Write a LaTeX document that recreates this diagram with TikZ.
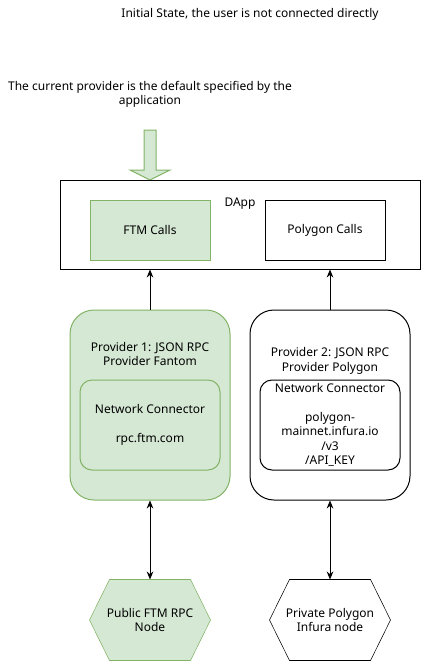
\documentclass[tikz,border=0pt]{standalone}
\usepackage{fontspec}
\setmainfont{Noto Sans}
\usetikzlibrary{positioning, calc, arrows.meta, backgrounds}
\definecolor{ftmfill}{HTML}{D5E8D4}
\definecolor{ftmline}{HTML}{82B366}

\begin{document}
\begin{tikzpicture}
    [x=0.75pt, y=-0.75pt, line width=0.75pt,
    every node/.style={font=\fontsize{9}{10.9}\selectfont, align=center},
    boxnode/.style={rectangle, draw=black, minimum width=90pt, minimum height=45pt, inner sep=0pt},
    providernode/.style={rectangle, draw=black, rounded corners=18pt, minimum width=120pt, minimum height=142.5pt, inner sep=0pt},
    connectnode/.style={rectangle, draw=black, rounded corners=9pt, minimum width=105pt, minimum height=67.5pt, inner sep=0pt},
    hexnode/.style={rectangle, minimum width=90pt, minimum height=60pt, inner sep=0pt},
    ftm/.style={draw=ftmline, fill=ftmfill},
    plain/.style={draw=black, fill=white},
    arrowline/.style={-{Stealth[length=6pt, width=5pt]}},
    dblarrow/.style={{Stealth[length=6pt, width=5pt]}-{Stealth[length=6pt, width=5pt]}},]

    \useasboundingbox (0,0) rectangle (421,661);

    %Texts
    \node (title) at (250,14) {Initial State, the user is not connected directly};
    \node (caption) at (150,94.5) {The current provider is the default specified by the\\application};

    %Default provider arrow
    \draw[ftm] (144,130) -- (156,130) -- (156,170) -- (170,170) -- (150,180) -- (130,170) -- (144,170) -- cycle;

    %DApp
    \node[boxnode, minimum width=270pt, minimum height=66.75pt](dapp) at (240,224.5){};
    \node(dapplabel) at (240,204){DApp};
    \node[boxnode, ftm](ftmcalls) at (150,230){FTM Calls};
    \node[boxnode](polycalls) at (325,230){Polygon Calls};

    %Providers
    \node[providernode, ftm](ftmprov) at (150,405){};
    \node(ftmprovlabel) at (150,354){Provider 1: JSON RPC\\Provider Fantom};
    \node[connectnode, ftm](ftmconn) at (150,425){Network Connector\\\\rpc.ftm.com};

    \node[providernode](polyprov) at (330,405){};
    \node(polyprovlabel) at (330,361){Provider 2: JSON RPC\\Provider Polygon};
    \node[connectnode](polyconn) at (330,425){Network Connector\\\\polygon-\\mainnet.infura.io\\/v3\\/API\_KEY};

    %RPC nodes
    \node[hexnode](pubnode) at (150,620){Public FTM RPC\\Node};
    \node[hexnode](privnode) at (330,620){Private Polygon\\Infura node};
    \begin{scope}[on background layer]
    \foreach \h/\s in {pubnode/ftm, privnode/plain}
        \draw[\s] ($(\h.north west)+(15pt,0)$) -- ($(\h.north east)+(-15pt,0)$) -- (\h.east)
            -- ($(\h.south east)+(-15pt,0)$) -- ($(\h.south west)+(15pt,0)$) -- (\h.west) -- cycle;
    \end{scope}

    %Lines
    \draw[arrowline](ftmprov.north)--(ftmprov.north |- dapp.south);
    \draw[arrowline](polyprov.north)--(polyprov.north |- dapp.south);
    \draw[dblarrow](ftmprov.south)--(pubnode.north);
    \draw[dblarrow](polyprov.south)--(privnode.north);
\end{tikzpicture}
\end{document}
